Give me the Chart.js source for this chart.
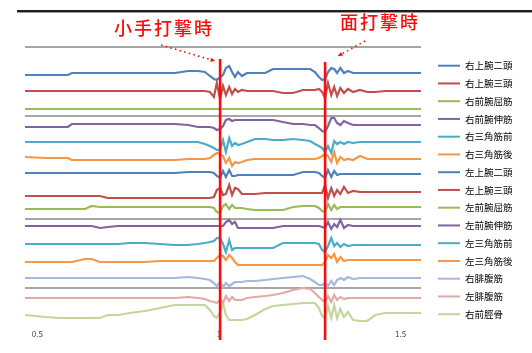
<!DOCTYPE html>
<html>
<head>
<meta charset="utf-8">
<script src="https://cdn.jsdelivr.net/npm/chart.js@4.4.1/dist/chart.umd.min.js"></script>
<style>
  html, body { margin: 0; padding: 0; background: #ffffff; }
  #wrap { width: 532px; height: 353px; position: relative; }
</style>
</head>
<body>
<div id="wrap"><canvas id="emg" width="532" height="353"></canvas></div>
<script>
// Sample times (s)
const timeSec = [
  0.466,0.521,0.562,0.584,0.595,0.631,0.650,0.672,0.694,0.722,
  0.755,0.796,0.837,0.879,0.915,0.942,0.961,0.975,0.986,0.994,
  1.003,1.011,1.019,1.028,1.036,1.044,1.052,1.063,1.077,1.099,
  1.127,1.149,1.176,1.204,1.231,1.251,1.264,1.275,1.284,1.292,
  1.300,1.309,1.317,1.325,1.334,1.344,1.355,1.369,1.388,1.408,
  1.430,1.457,1.499,1.556
];

// Channel traces (offset per channel, arbitrary units)
const rBicepsEmg = [
  24.9,24.9,24.9,24.9,25.1,25.1,25.1,25.1,25.1,25.1,
  25.1,25.1,25.1,25.1,25.3,25.3,25.2,24.8,24.5,24.4,
  24.7,24.9,25.6,25.8,25.2,24.7,25.2,24.8,25.1,25.1,
  25.1,25.5,25.5,25.5,25.5,25.5,25.2,24.7,24.4,24.5,
  25.2,25.6,25.5,25.1,25.6,25.1,25.3,25.1,25.1,25.1,
  25.1,25.1,25.1,25.1
];
const rTricepsEmg = [
  23.3,23.3,23.3,23.3,23.3,23.3,23.3,23.3,23.3,23.3,
  23.3,23.3,23.3,23.3,23.3,23.3,23.3,23.2,22.7,24.1,
  22.5,23.8,22.9,23.7,23.0,23.5,23.2,23.4,23.3,23.3,
  23.3,23.3,23.1,23.1,23.4,23.4,23.4,23.5,23.2,22.6,
  24.1,22.9,23.7,22.8,23.6,23.1,23.5,23.2,23.4,23.2,
  23.2,23.3,23.3,23.3
];
const rFlexorEmg = [
  21.5,21.5,21.5,21.5,21.5,21.5,21.5,21.5,21.5,21.5,
  21.5,21.5,21.5,21.5,21.5,21.5,21.5,21.5,21.5,21.5,
  21.5,21.5,21.5,21.5,21.5,21.5,21.5,21.5,21.5,21.5,
  21.5,21.5,21.5,21.5,21.5,21.5,21.5,21.5,21.5,21.5,
  21.5,21.5,21.5,21.5,21.5,21.5,21.5,21.5,21.5,21.5,
  21.5,21.5,21.5,21.5
];
const rExtensorEmg = [
  19.7,19.7,19.7,19.7,20.0,20.0,20.0,20.0,20.0,20.0,
  20.0,20.0,20.0,20.0,19.9,19.7,19.7,19.7,19.6,19.4,
  19.5,19.8,20.4,20.5,20.3,20.4,20.4,20.4,20.4,20.4,
  20.4,20.4,20.2,20.0,20.0,19.9,19.9,19.6,19.3,19.2,
  19.8,20.6,20.6,20.1,19.9,20.3,20.1,19.9,19.9,19.9,
  19.9,19.9,19.9,19.9
];
const rDeltAntEmg = [
  18.2,18.2,18.2,18.2,18.2,18.2,18.2,18.2,18.2,18.2,
  18.2,18.2,18.2,18.2,18.2,18.2,18.0,17.8,17.6,17.4,
  17.4,18.4,17.2,18.6,17.8,18.1,17.9,18.0,18.2,18.5,
  18.5,18.4,18.4,18.5,18.4,18.3,18.0,17.8,17.6,17.2,
  17.8,17.1,18.3,18.0,18.2,18.0,18.2,18.1,18.2,18.2,
  18.2,18.2,18.2,18.2
];
const rDeltPostEmg = [
  16.7,16.6,16.6,16.6,16.4,16.4,16.4,16.4,16.4,16.4,
  16.4,16.4,16.4,16.4,16.5,16.5,16.5,16.6,16.9,17.1,
  17.0,16.8,16.1,16.6,15.8,16.2,16.1,16.2,16.4,16.5,
  16.5,16.5,16.5,16.5,16.5,16.5,16.5,16.6,16.8,17.0,
  16.8,16.2,17.2,16.1,16.7,16.4,16.5,16.4,16.8,16.5,
  16.5,16.5,16.5,16.5
];
const lBicepsEmg = [
  15.1,15.1,15.1,15.1,15.1,15.1,15.1,15.1,15.1,15.1,
  15.1,15.1,15.1,15.1,15.2,15.2,15.2,15.2,15.1,14.8,
  14.6,15.3,14.7,15.4,14.8,14.8,14.9,14.9,14.9,14.9,
  14.9,14.9,14.9,14.9,15.2,15.2,15.2,15.1,14.8,14.6,
  15.4,14.7,15.3,14.9,15.0,15.0,15.0,15.0,15.0,15.0,
  15.0,15.0,15.0,15.0
];
const lTricepsEmg = [
  12.8,12.8,12.8,12.8,12.8,12.8,12.8,12.8,12.6,12.6,
  12.6,12.6,12.6,12.6,12.6,12.6,12.6,12.6,12.7,13.4,
  13.6,12.9,13.0,13.9,12.9,13.6,13.5,13.0,13.0,13.0,
  13.1,13.1,13.1,13.1,13.1,13.1,13.1,13.1,13.1,13.9,
  12.6,13.6,12.8,13.4,13.0,13.7,13.1,13.3,13.2,13.2,
  13.2,13.2,13.2,13.2
];
const lFlexorEmg = [
  11.5,11.5,11.5,11.5,11.5,11.5,11.8,11.7,11.7,11.7,
  11.7,11.7,11.7,11.7,11.7,11.7,11.7,11.7,11.6,11.2,
  11.1,11.8,12.0,11.5,11.9,11.6,11.6,11.6,11.5,11.4,
  11.4,11.4,11.4,11.7,11.8,11.8,11.8,11.6,11.3,11.2,
  12.0,11.4,11.9,11.5,11.7,11.7,11.7,11.7,11.7,11.7,
  11.7,11.7,11.7,11.7
];
const lExtensorEmg = [
  9.8,9.8,9.8,9.8,9.8,9.8,9.8,9.6,9.7,9.8,
  9.8,9.8,9.8,9.8,9.8,9.8,9.8,9.8,9.8,9.8,
  9.8,9.8,10.2,10.4,10.0,10.2,9.6,9.6,9.6,9.6,
  9.6,9.6,9.8,9.8,9.8,9.8,9.8,9.8,9.7,9.6,
  10.2,9.5,10.0,9.7,10.4,9.6,9.9,9.8,9.8,9.8,
  9.8,9.8,9.8,9.8
];
const lDeltAntEmg = [
  8.0,8.0,8.0,8.0,8.0,8.0,8.0,8.0,8.0,8.0,
  8.1,8.1,8.0,7.9,7.9,8.0,8.1,8.2,8.3,8.6,
  8.6,8.0,7.2,8.4,7.4,7.6,7.6,7.6,7.6,7.6,
  7.6,7.6,8.1,8.1,8.1,8.1,8.1,8.0,7.4,7.2,
  7.8,8.6,7.8,8.1,7.7,8.0,7.8,7.9,7.9,7.9,
  7.9,7.9,7.9,7.9
];
const lDeltPostEmg = [
  6.2,6.2,6.2,6.2,6.2,6.5,6.5,6.2,6.2,6.2,
  6.2,6.2,6.3,6.3,6.3,6.3,6.3,6.3,6.3,6.6,
  6.9,6.8,6.4,6.9,6.6,6.2,5.9,5.9,5.9,5.9,
  5.9,5.9,5.9,5.9,5.9,5.9,5.9,5.9,5.9,6.2,
  6.9,6.6,7.0,6.2,6.7,6.3,6.4,6.4,6.4,6.4,
  6.4,6.4,6.4,6.4
];
const rGastrocEmg = [
  4.6,4.6,4.6,4.6,4.6,4.6,4.6,4.6,4.6,4.6,
  4.6,4.6,4.6,4.6,4.7,4.6,4.5,4.4,4.1,3.8,
  4.2,3.7,4.1,3.8,4.0,4.2,4.2,4.2,4.3,4.3,
  4.4,4.5,4.6,4.7,4.8,4.5,4.2,3.9,3.9,4.1,
  3.8,4.3,3.9,4.4,4.6,4.4,4.7,4.5,4.6,4.6,
  4.6,4.6,4.6,4.6
];
const lGastrocEmg = [
  2.6,2.6,2.6,2.6,2.6,2.6,2.6,2.6,2.6,2.6,
  2.6,2.6,2.6,2.6,2.7,2.6,2.5,2.3,2.2,2.1,
  2.4,2.1,2.8,2.3,2.7,2.4,2.4,2.4,2.6,2.7,
  2.8,2.9,3.1,3.4,3.6,3.5,3.1,2.7,2.4,2.2,
  2.8,2.2,2.9,2.4,2.7,2.5,2.6,2.6,2.6,2.6,
  2.6,2.6,2.6,2.6
];
const rTibialisEmg = [
  0.9,0.7,0.6,0.6,0.6,0.6,0.6,0.6,0.9,0.9,
  1.1,1.3,1.6,1.9,1.9,1.9,1.9,1.4,0.8,0.6,
  1.2,2.1,0.9,0.4,0.4,0.4,0.4,0.4,0.5,0.9,
  1.5,1.8,1.9,2.0,2.1,2.1,2.1,1.6,0.8,0.6,
  1.8,0.6,1.9,0.6,1.5,0.7,1.2,0.4,0.3,0.3,
  0.9,1.1,1.1,1.1
];

const channelNames = [
  '右上腕二頭','右上腕三頭','右前腕屈筋','右前腕伸筋','右三角筋前',
  '右三角筋後','左上腕二頭','左上腕三頭','左前腕屈筋','左前腕伸筋',
  '左三角筋前','左三角筋後','右腓腹筋','左腓腹筋','右前脛骨'
];
const channelValues = [
  rBicepsEmg, rTricepsEmg, rFlexorEmg, rExtensorEmg, rDeltAntEmg,
  rDeltPostEmg, lBicepsEmg, lTricepsEmg, lFlexorEmg, lExtensorEmg,
  lDeltAntEmg, lDeltPostEmg, rGastrocEmg, lGastrocEmg, rTibialisEmg
];

// Separator levels between channel groups
const dividerLevels = [3.65, 10.5, 20.8, 27.7];
const xTickValues = [0.5, 1, 1.5];

// Strike instants
const eventTimes = [1.003, 1.292];
const eventLabels = ['小手打撃時', '面打撃時'];

// Styling
const channelColors = [
  '#4f81bd','#c0504d','#9bbb59','#8064a2','#4bacc6','#f79646',
  '#4f81bd','#c0504d','#9bbb59','#8064a2','#4bacc6','#f79646',
  '#a5b8de','#e0aaa9','#c3d69b'
];
const FONT = "'Noto Sans CJK JP', 'Noto Sans', sans-serif";

const datasets = channelNames.map((name, i) => ({
  label: name,
  data: timeSec.map((t, k) => ({ x: t, y: channelValues[i][k] })),
  borderColor: channelColors[i],
  backgroundColor: channelColors[i],
  borderWidth: 2.2,
  pointRadius: 0,
  tension: 0,
  fill: false
}));

function drawArrow(ctx, x1, y1, x2, y2, color) {
  ctx.save();
  ctx.strokeStyle = color;
  ctx.fillStyle = color;
  ctx.lineWidth = 1.6;
  ctx.setLineDash([1.6, 3.2]);
  ctx.beginPath();
  ctx.moveTo(x1, y1);
  ctx.lineTo(x2, y2);
  ctx.stroke();
  ctx.setLineDash([]);
  const a = Math.atan2(y2 - y1, x2 - x1);
  const s = 5;
  ctx.beginPath();
  ctx.moveTo(x2, y2);
  ctx.lineTo(x2 - s * Math.cos(a - 0.45), y2 - s * Math.sin(a - 0.45));
  ctx.lineTo(x2 - s * Math.cos(a + 0.45), y2 - s * Math.sin(a + 0.45));
  ctx.closePath();
  ctx.fill();
  ctx.restore();
}

const overlay = {
  id: 'overlay',
  beforeDraw(chart) {
    const ctx = chart.ctx;
    ctx.save();
    ctx.fillStyle = '#ffffff';
    ctx.fillRect(0, 0, chart.width, chart.height);
    ctx.fillStyle = '#1e1e1e';
    ctx.fillRect(17, 10, chart.width - 17, 2);
    ctx.fillStyle = '#9a9a9a';
    ctx.fillRect(17, 12, chart.width - 17, 1);
    ctx.restore();
  },
  afterDraw(chart) {
    const { ctx, chartArea } = chart;
    const xs = chart.scales.x;
    const red = '#ff0a0a';
    const lineTops = [chartArea.top + 12, chartArea.top + 15];
    const textDx = [-56, 55];
    const textDy = [-19, -25];
    const arrows = [
      [-59, -2, -5, 14],
      [40, -6, 13, 9]
    ];
    eventTimes.forEach((t, i) => {
      const ex = xs.getPixelForValue(t);
      ctx.save();
      ctx.strokeStyle = red;
      ctx.lineWidth = 2.6;
      ctx.beginPath();
      ctx.moveTo(ex, lineTops[i]);
      ctx.lineTo(ex, chartArea.bottom + 16);
      ctx.stroke();
      ctx.fillStyle = red;
      ctx.font = '500 18px ' + FONT;
      ctx.letterSpacing = '2px';
      ctx.textAlign = 'center';
      ctx.textBaseline = 'middle';
      ctx.fillText(eventLabels[i], ex + textDx[i], chartArea.top + textDy[i]);
      ctx.restore();
      const a = arrows[i];
      drawArrow(ctx, ex + a[0], chartArea.top + a[1], ex + a[2], chartArea.top + a[3], red);
    });

    // legend
    const lx = chartArea.right + 17;
    const ly = chartArea.top + 18.7;
    const step = 17.75;
    ctx.save();
    ctx.font = '9.5px ' + FONT;
    ctx.textBaseline = 'middle';
    ctx.textAlign = 'left';
    chart.data.datasets.forEach((ds, i) => {
      const y = ly + i * step;
      ctx.strokeStyle = ds.borderColor;
      ctx.lineWidth = 2;
      ctx.beginPath();
      ctx.moveTo(lx, y);
      ctx.lineTo(lx + 22, y);
      ctx.stroke();
      ctx.fillStyle = '#000000';
      ctx.fillText(ds.label, lx + 27, y);
    });
    ctx.restore();
  }
};

new Chart(document.getElementById('emg'), {
  type: 'line',
  data: { datasets },
  plugins: [overlay],
  options: {
    responsive: false,
    animation: false,
    events: [],
    layout: { padding: { left: 25, right: 111, top: 47, bottom: 9.4 } },
    plugins: {
      legend: { display: false },
      tooltip: { enabled: false },
      title: { display: false }
    },
    scales: {
      x: {
        type: 'linear',
        min: 0.466,
        max: 1.556,
        afterBuildTicks: (axis) => { axis.ticks = xTickValues.map(v => ({ value: v })); },
        grid: { display: false, drawTicks: false },
        border: { display: false },
        ticks: {
          autoSkip: false,
          maxRotation: 0,
          padding: 5,
          color: '#404040',
          font: { size: 8, family: FONT },
          callback: (v) => String(v)
        }
      },
      y: {
        type: 'linear',
        min: 0,
        max: 27.7,
        afterBuildTicks: (axis) => { axis.ticks = dividerLevels.map(v => ({ value: v })); },
        grid: { color: '#a6a6a6', lineWidth: 2, drawTicks: false },
        border: { display: false },
        ticks: { display: false }
      }
    }
  }
});
</script>
</body>
</html>
